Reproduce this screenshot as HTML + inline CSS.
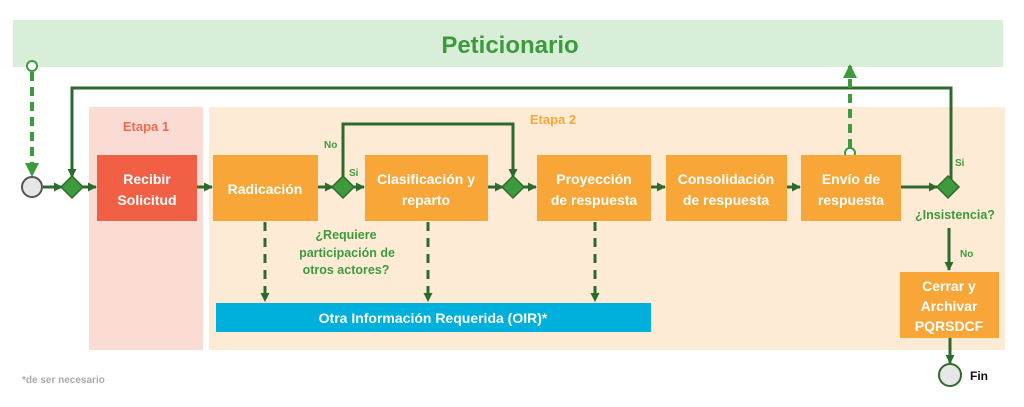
<!DOCTYPE html><html><head><style>body{margin:0;background:#fff}svg text{font-family:"Liberation Sans",sans-serif;font-weight:bold}</style></head><body>
<svg width="1024" height="402" viewBox="0 0 1024 402" xmlns="http://www.w3.org/2000/svg">
<defs><marker id="a" markerWidth="9" markerHeight="9" refX="8" refY="4.5" orient="auto" markerUnits="userSpaceOnUse" viewBox="0 0 9 9"><path d="M0,0L9,4.5L0,9z" fill="#2d6a2d"/></marker>
<marker id="b" markerWidth="14" markerHeight="14" refX="12" refY="7" orient="auto" markerUnits="userSpaceOnUse" viewBox="0 0 14 14"><path d="M0,0L14,7L0,14z" fill="#3d9b3d"/></marker></defs>
<rect x="13" y="20" width="990" height="47" fill="#d9eed9"/>
<text x="510" y="53" text-anchor="middle" font-size="24" fill="#3d9b3d">Peticionario</text>
<rect x="89" y="107" width="114" height="243" fill="#fbdcd5"/>
<rect x="209" y="107" width="796" height="243" fill="#fdebd6"/>
<text x="146" y="131" text-anchor="middle" font-size="13" fill="#f06a50">Etapa 1</text>
<text x="553" y="124" text-anchor="middle" font-size="13" fill="#f7a838">Etapa 2</text>
<g stroke="#2d6a2d" stroke-width="3" fill="none">
<path d="M951,180V88H72V177" marker-end="url(#a)"/>
<path d="M343,180V124H513V177" marker-end="url(#a)"/>
<path d="M43,187H62" marker-end="url(#a)"/>
<path d="M82,187H96" marker-end="url(#a)"/>
<path d="M197,187H212" marker-end="url(#a)"/>
<path d="M318,187H333" marker-end="url(#a)"/>
<path d="M353,187H364" marker-end="url(#a)"/>
<path d="M488,187H503" marker-end="url(#a)"/>
<path d="M523,187H536" marker-end="url(#a)"/>
<path d="M651,187H665" marker-end="url(#a)"/>
<path d="M787,187H800" marker-end="url(#a)"/>
<path d="M901,187H937" marker-end="url(#a)"/>
<path d="M949,228V270" marker-end="url(#a)"/>
<path d="M950,338V363" marker-end="url(#a)"/>
<g stroke-dasharray="9,7"><path d="M265,222V301" marker-end="url(#a)"/><path d="M428,222V301" marker-end="url(#a)"/><path d="M595,222V301" marker-end="url(#a)"/></g>
</g>
<g stroke="#3d9b3d" stroke-width="4" fill="none" stroke-dasharray="9,6">
<path d="M32,72V175" marker-end="url(#b)"/><path d="M850,148V66" marker-end="url(#b)"/></g>
<circle cx="32" cy="66" r="5" fill="#fff" stroke="#3d9b3d" stroke-width="2"/>
<circle cx="850" cy="153" r="5" fill="#fff" stroke="#3d9b3d" stroke-width="2"/>
<circle cx="32" cy="187" r="10" fill="#e6e6e6" stroke="#555" stroke-width="2"/>
<circle cx="950" cy="375" r="11" fill="#e6e6e6" stroke="#2d6a2d" stroke-width="2"/>
<g fill="#3d9b3d" stroke="#2d6a2d" stroke-width="1.5">
<path d="M72,176L83,187L72,198L61,187z"/><path d="M343,176L354,187L343,198L332,187z"/><path d="M513,176L524,187L513,198L502,187z"/><path d="M948,176L959,187L948,198L937,187z"/></g>
<rect x="97" y="155" width="100" height="66" fill="#f15f45"/>
<g fill="#f8a637"><rect x="213" y="155" width="105" height="66"/><rect x="365" y="155" width="123" height="66"/><rect x="537" y="155" width="114" height="66"/><rect x="666" y="155" width="121" height="66"/><rect x="801" y="155" width="100" height="66"/><rect x="900" y="272" width="99" height="66"/></g>
<rect x="216" y="303" width="435" height="29" fill="#00b0dc"/>
<g fill="#fff" font-size="14" text-anchor="middle">
<text x="147" y="184">Recibir</text><text x="147" y="205">Solicitud</text>
<text x="265" y="194">Radicación</text>
<text x="426" y="184">Clasificación y</text><text x="426" y="205">reparto</text>
<text x="594" y="184">Proyección</text><text x="594" y="205">de respuesta</text>
<text x="726" y="184">Consolidación</text><text x="726" y="205">de respuesta</text>
<text x="851" y="184">Envío de</text><text x="851" y="205">respuesta</text>
<text x="949" y="291">Cerrar y</text><text x="949" y="311">Archivar</text><text x="949" y="331">PQRSDCF</text>
<text x="433" y="323">Otra Información Requerida (OIR)*</text></g>
<g fill="#3d9b3d" font-size="12.5" text-anchor="middle">
<text x="346" y="239">¿Requiere</text><text x="347" y="257">participación de</text><text x="346" y="274">otros actores?</text>
<text x="955" y="219">¿Insistencia?</text></g>
<g fill="#3d9b3d" font-size="10"><text x="324" y="148">No</text><text x="349" y="176">Si</text><text x="955" y="166">Si</text><text x="960" y="257">No</text></g>
<text x="970" y="380" font-size="12" fill="#111">Fin</text>
<text x="22" y="383" font-size="10" fill="#aaa" font-weight="normal">*de ser necesario</text>
</svg></body></html>
